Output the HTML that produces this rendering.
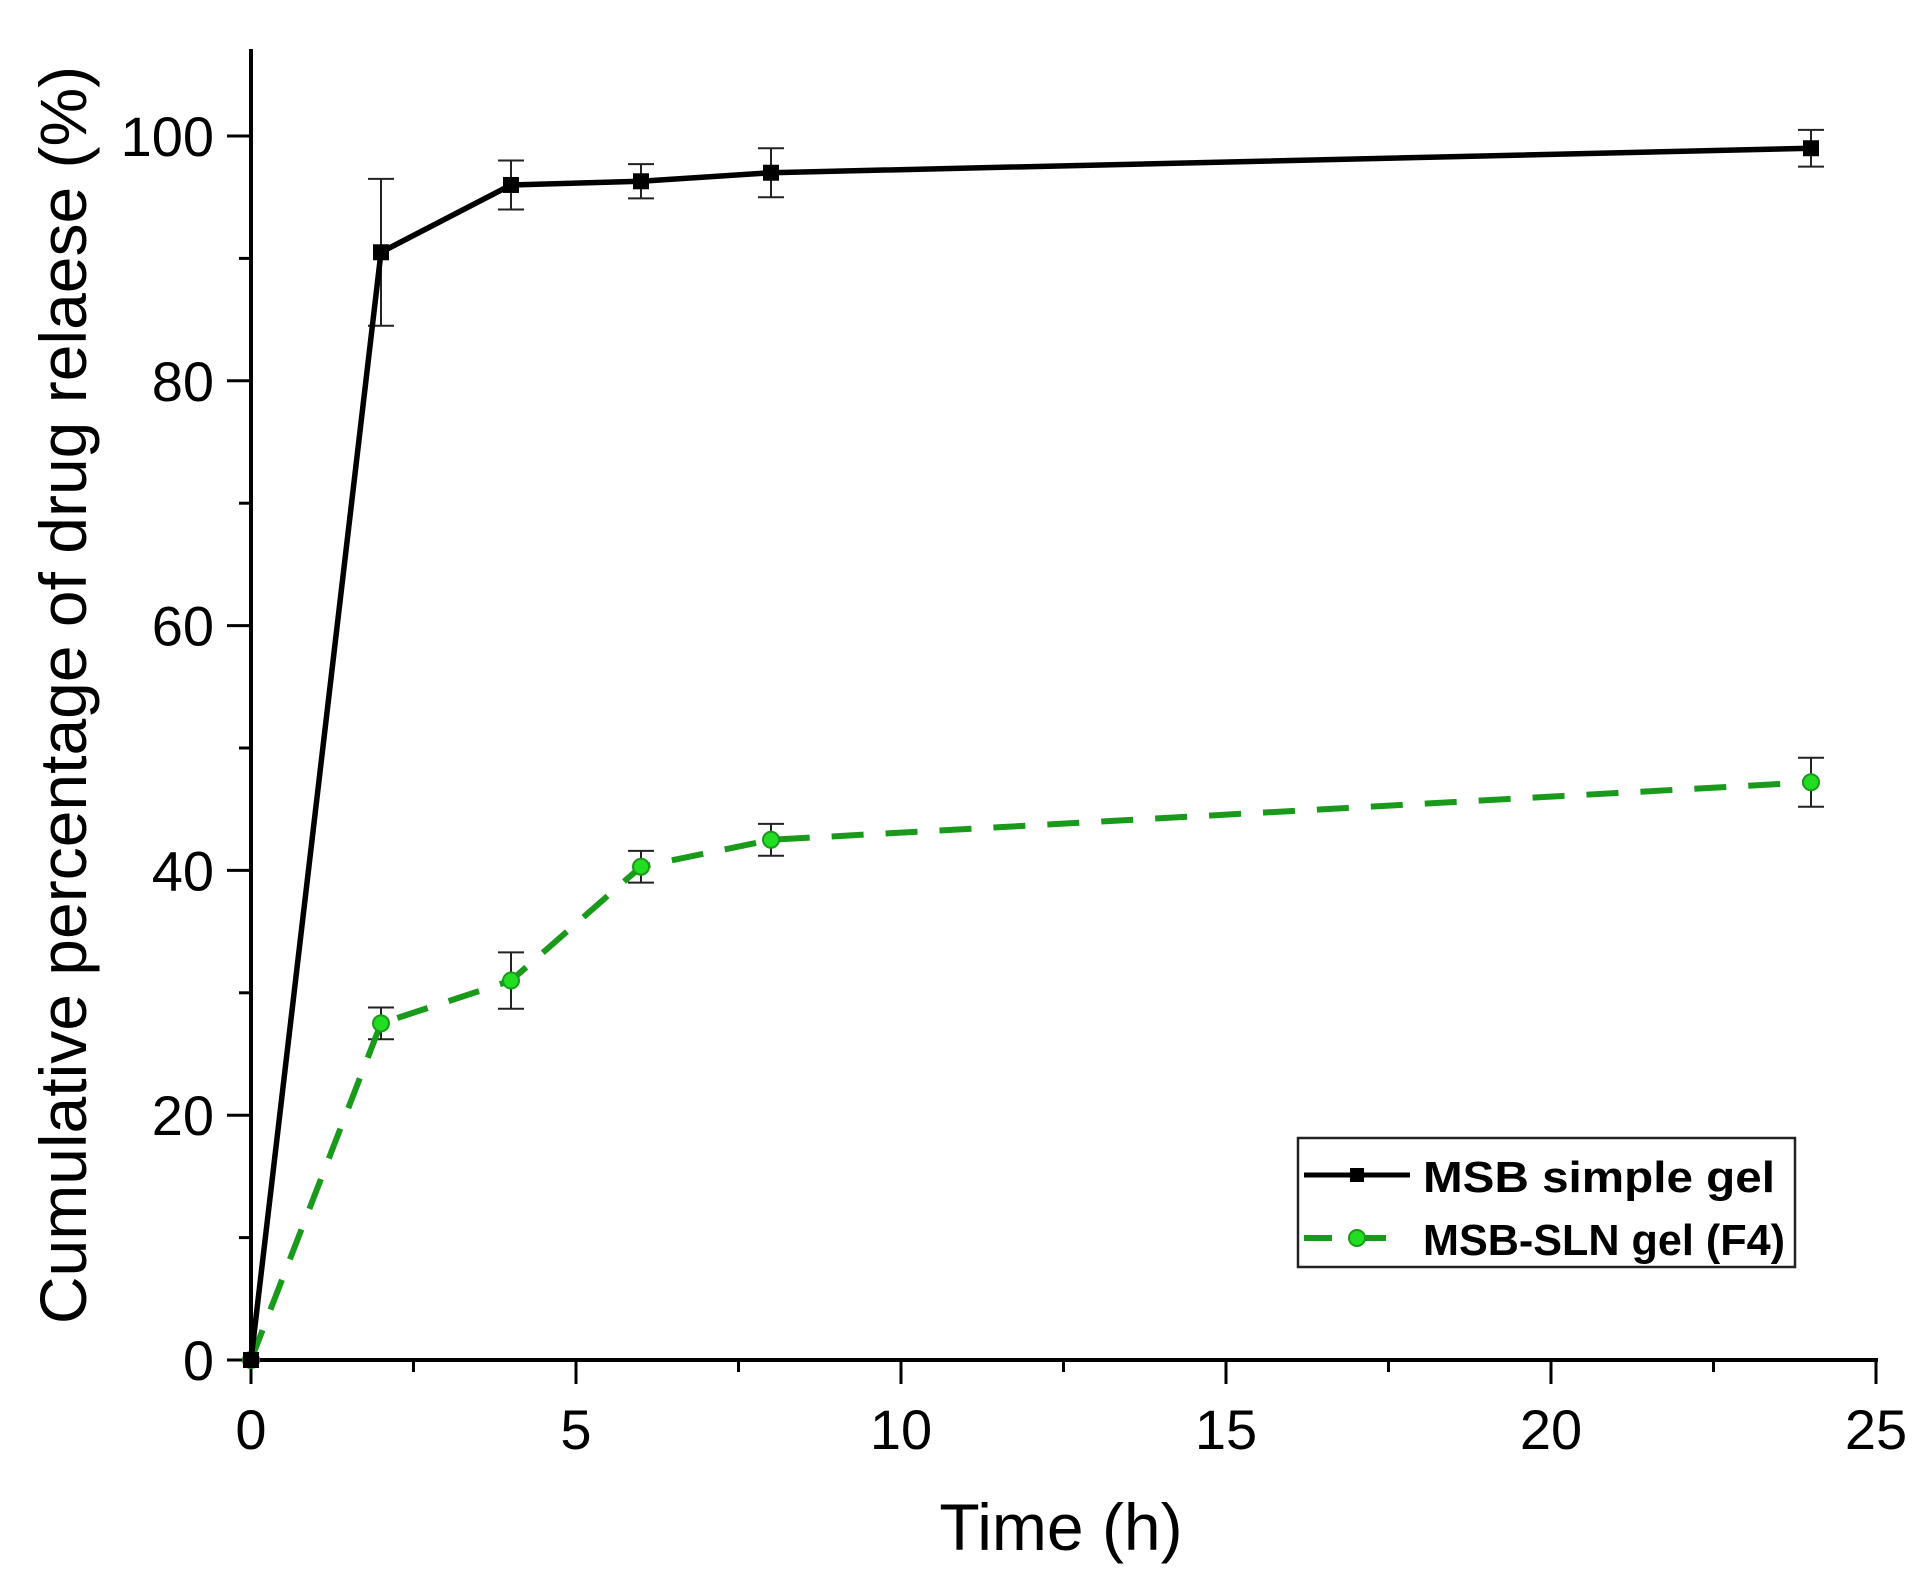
<!DOCTYPE html>
<html><head><meta charset="utf-8"><style>
html,body{margin:0;padding:0;background:#fff;}
svg{display:block;font-family:"Liberation Sans",Arial,sans-serif;}
</style></head><body>
<svg id="chart" width="1913" height="1571" viewBox="0 0 1913 1571" xmlns="http://www.w3.org/2000/svg">
<g id="axes"></g>
<g id="series"></g>
<text x="1061" y="1550" font-size="66" text-anchor="middle">Time (h)</text>
<text transform="translate(86,695) rotate(-90)" font-size="66" text-anchor="middle">Cumulative percentage of drug relaese (%)</text>
<g>
<rect x="1298" y="1138" width="497" height="129" fill="#fff" stroke="#222" stroke-width="2.5"/>
<g>
<line x1="1304" y1="1175" x2="1410" y2="1175" stroke="#000" stroke-width="5"/>
<rect x="1350" y="1168" width="14" height="14" fill="#000"/>
<text x="1423" y="1192" font-size="44" font-weight="bold" textLength="352" lengthAdjust="spacingAndGlyphs">MSB simple gel</text>
</g>
<g>
<line x1="1304" y1="1238" x2="1410" y2="1238" stroke="#1a9a1a" stroke-width="6" stroke-dasharray="28,26"/>
<circle cx="1357" cy="1238" r="8" fill="#22dd22" stroke="#1a9a1a" stroke-width="2"/>
<text x="1423" y="1255" font-size="44" font-weight="bold" textLength="362" lengthAdjust="spacingAndGlyphs">MSB-SLN gel (F4)</text>
</g>
</g>
</svg>
<script>
const times = [0, 2, 4, 6, 8, 24];
const simpleGel = [0, 90.5, 96, 96.3, 97, 99];
const simpleErr = [0, 6, 2, 1.4, 2, 1.5];
const slnGel = [0, 27.5, 31, 40.3, 42.5, 47.2];
const slnErr = [0, 1.3, 2.3, 1.3, 1.3, 2];
const xTicks = [0, 5, 10, 15, 20, 25];
const yTicks = [0, 20, 40, 60, 80, 100];

const X0 = 251, X1 = 1876, Y0 = 1360, Y1 = 136;
const xs = v => X0 + (v / 25) * (X1 - X0);
const ys = v => Y0 - (v / 100) * (Y0 - Y1);
const NS = 'http://www.w3.org/2000/svg';
function mk(tag, attrs, parent) {
  const e = document.createElementNS(NS, tag);
  for (const k in attrs) e.setAttribute(k, attrs[k]);
  parent.appendChild(e);
  return e;
}
const axes = document.getElementById('axes');
const series = document.getElementById('series');

let l = mk('line', {x1: X0, y1: 49, x2: X0, y2: Y0 + 1, stroke: '#000', 'stroke-width': 4}, axes);


l = mk('line', {x1: X0 - 2, y1: Y0, x2: X1 + 2, y2: Y0, stroke: '#000', 'stroke-width': 4}, axes);



for (let v = 0; v <= 25; v += 2.5) {
  const major = Math.abs(v % 5) < 1e-9;
  const t = mk('line', {x1: xs(v), y1: Y0, x2: xs(v), y2: Y0 + (major ? 24 : 12), stroke: '#000', 'stroke-width': 3}, axes);
  
  
}
xTicks.forEach(v => {
  const t = mk('text', {x: xs(v), y: 1449, 'font-size': 56, 'text-anchor': 'middle'}, axes);
  t.textContent = v;
  
  
});
for (let v = 0; v <= 100; v += 10) {
  const major = v % 20 === 0;
  const t = mk('line', {x1: X0 - (major ? 24 : 12), y1: ys(v), x2: X0, y2: ys(v), stroke: '#000', 'stroke-width': 3}, axes);
  
  
}
yTicks.forEach(v => {
  const t = mk('text', {x: 214, y: ys(v) + 20, 'font-size': 56, 'text-anchor': 'end'}, axes);
  t.textContent = v;
  
  
});

function drawSeries(vals, errs, color, dash, marker, name, fill) {
  const g = mk('g', {}, series);
  
  
  vals.forEach((v, i) => {
    if (errs[i] <= 0) return;
    const x = xs(times[i]);
    const e = mk('path', {d: `M${x},${ys(v + errs[i])}V${ys(v - errs[i])}M${x - 13},${ys(v + errs[i])}H${x + 13}M${x - 13},${ys(v - errs[i])}H${x + 13}`, stroke: '#222', 'stroke-width': 2, fill: 'none'}, g);
    
    
  });
  const pts = vals.map((v, i) => xs(times[i]) + ',' + ys(v)).join(' ');
  const pl = mk('polyline', {points: pts, fill: 'none', stroke: color, 'stroke-width': dash ? 6 : 5.5, 'stroke-dasharray': dash || 'none', 'stroke-linejoin': 'round'}, g);
  
  
  vals.forEach((v, i) => {
    let m;
    if (marker === 'square') m = mk('rect', {x: xs(times[i]) - 8, y: ys(v) - 8, width: 16, height: 16, fill: '#000'}, g);
    else m = mk('circle', {cx: xs(times[i]), cy: ys(v), r: 8, fill: fill, stroke: color, 'stroke-width': 2}, g);
    
    
  });
}
drawSeries(slnGel, slnErr, '#1a9a1a', '32,22', 'circle', 'sln-gel', '#22dd22');
drawSeries(simpleGel, simpleErr, '#000', null, 'square', 'simple-gel', '#000');
</script>
</body></html>
